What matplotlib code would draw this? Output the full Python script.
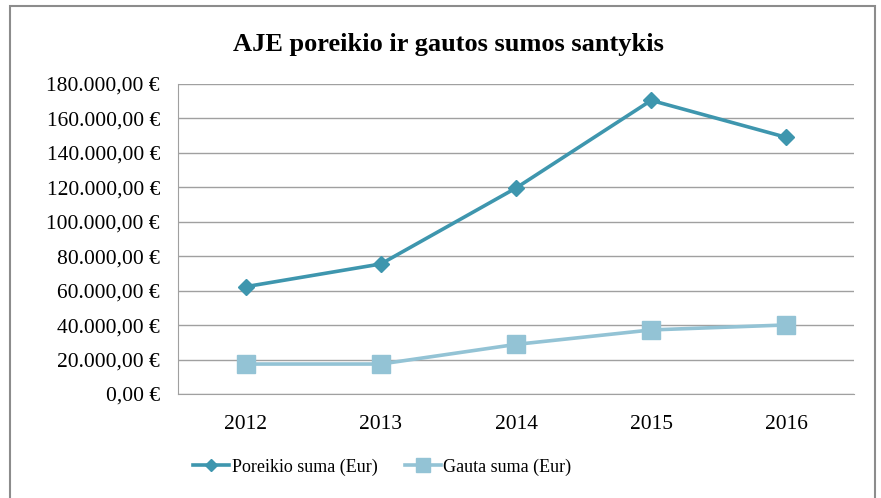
import matplotlib.pyplot as plt
import numpy as np
from matplotlib.ticker import FuncFormatter, MultipleLocator

plt.rcParams['font.family'] = ['Liberation Serif', 'DejaVu Serif']

years = ['2012', '2013', '2014', '2015', '2016']
poreikio = [62300, 75500, 119600, 170500, 149000]
gauta = [17400, 17400, 28800, 37200, 40100]

c_poreikio = '#3E96AE'
c_gauta = '#93C3D5'
grid_c = '#A0A0A0'


def eur(v, pos):
    s = f'{v:,.2f}'
    s = s.replace(',', ' ').replace('.', ',').replace(' ', '.')
    return s + ' €'


fig = plt.figure(figsize=(8.81, 4.98), dpi=100)
# outer chart border
fig.patches.append(plt.Rectangle((10 / 881, -0.01), 865 / 881, 1 - 6 / 498 + 0.01,
                                 transform=fig.transFigure, fill=False,
                                 edgecolor='#8C8C8C', linewidth=1.5))

ax = fig.add_axes([178 / 881, 1 - 394 / 498, (854 - 178) / 881, (394 - 84) / 498])
x = np.arange(len(years))

ax.plot(x, poreikio, color=c_poreikio, linewidth=2.6, marker='D', markersize=8.5,
        label='Poreikio suma (Eur)', zorder=4)
ax.plot(x, gauta, color=c_gauta, linewidth=2.6, marker='s', markersize=13,
        label='Gauta suma (Eur)', zorder=3)

ax.set_xlim(-0.5, 4.5)
ax.set_ylim(0, 180000)
ax.yaxis.set_major_locator(MultipleLocator(20000))
ax.yaxis.set_major_formatter(FuncFormatter(eur))
ax.set_xticks(x)
ax.set_xticklabels(years)
ax.tick_params(axis='both', length=0, labelsize=15.5, colors='black')
ax.tick_params(axis='y', pad=13)
ax.tick_params(axis='x', pad=15)

ax.grid(axis='y', color=grid_c, linewidth=1)
ax.set_axisbelow(True)
for side in ['top', 'right']:
    ax.spines[side].set_visible(False)
ax.spines['left'].set_color(grid_c)
ax.spines['bottom'].set_color(grid_c)

fig.text(448 / 881, 1 - 45 / 498, 'AJE poreikio ir gautos sumos santykis',
         ha='center', va='center', fontsize=19, fontweight='bold')

fig.legend(loc='center left', bbox_to_anchor=(193 / 881, 1 - 467 / 498), ncol=2,
           frameon=False, fontsize=13, handlelength=2.0, handletextpad=0.15,
           columnspacing=1.5, markerscale=0.75, borderpad=0, borderaxespad=0)

fig.savefig('out.png', dpi=100)
